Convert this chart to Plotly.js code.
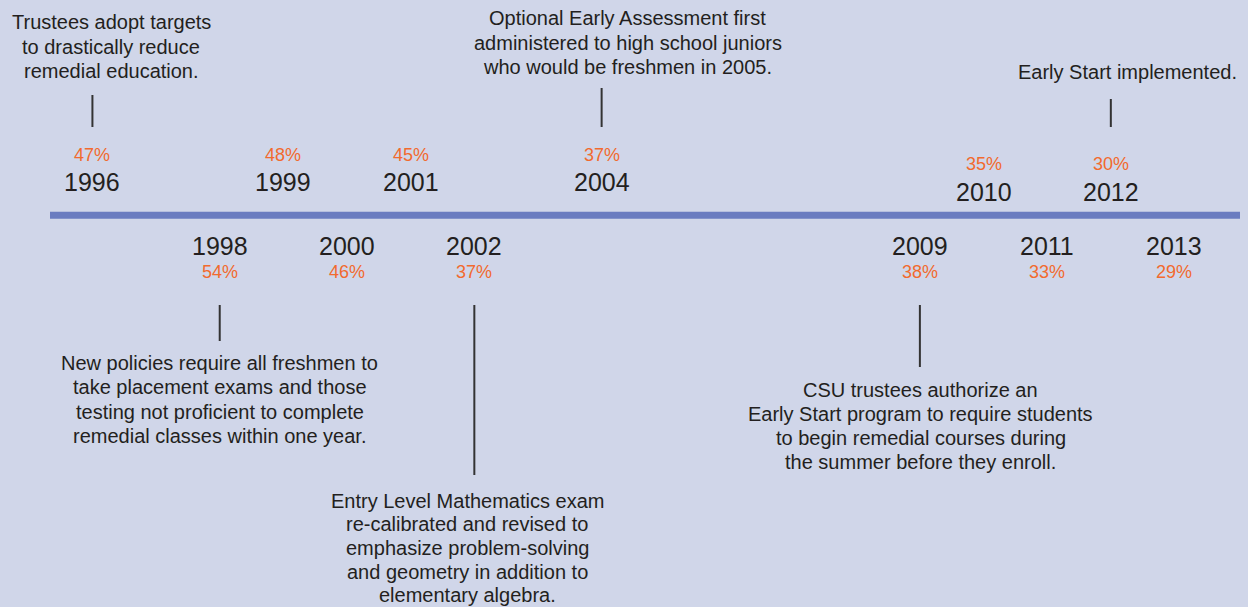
<!DOCTYPE html>
<html>
<head>
<meta charset="utf-8">
<script src="https://cdn.plot.ly/plotly-3.0.1.min.js"></script>
<style>
  html, body { margin: 0; padding: 0; background: #d0d6e9; }
  #chart { width: 1248px; height: 607px; }
</style>
</head>
<body>
<div id="chart"></div>
<script>
// ---------- DATA ----------
const years = [1996, 1998, 1999, 2000, 2001, 2002, 2004, 2009, 2010, 2011, 2012, 2013];
const remedialPct = [47, 54, 48, 46, 45, 37, 37, 38, 35, 33, 30, 29];

const eventYears = [1996, 1998, 2002, 2004, 2009, 2012];
const eventText = [
  "Trustees adopt targets<br>to drastically reduce<br>remedial education.",
  "New policies require all freshmen to<br>take placement exams and those<br>testing not proficient to complete<br>remedial classes within one year.",
  "Entry Level Mathematics exam<br>re-calibrated and revised to<br>emphasize problem-solving<br>and geometry in addition to<br>elementary algebra.",
  "Optional Early Assessment first<br>administered to high school juniors<br>who would be freshmen in 2005.",
  "CSU trustees authorize an<br>Early Start program to require students<br>to begin remedial courses during<br>the summer before they enroll.",
  "Early Start implemented."
];

// ---------- LAYOUT / STYLE ----------
const BG = '#d0d6e9';
const TEXT = '#231f20';
const ORANGE = '#f26a2e';
const LINE = '#6a7cc0';
const FONT = 'Liberation Sans, Arial, sans-serif';

// vertical placement (pixel rows, y axis runs 0..607 top-down)
function yearStyle(i, yr) {
  const above = (i % 2 === 0);
  if (above) {
    const late = yr >= 2010;
    return { above: true, yYear: late ? 192 : 182, yPct: late ? 163.7 : 154.5 };
  }
  return { above: false, yYear: 246, yPct: 271.5 };
}

// per-event: tick extent, text first-line center, line spacing, horizontal shift of text
const eventLayout = {
  1996: { t0: 95, t1: 127, first: 22.2, step: 24.5, dx: 19 },
  1998: { t0: 305, t1: 341, first: 362.8, step: 24.4, dx: 0 },
  2002: { t0: 305, t1: 475, first: 500.8, step: 23.6, dx: -7 },
  2004: { t0: 88, t1: 127, first: 18.3, step: 24.2, dx: 26 },
  2009: { t0: 305, t1: 367, first: 389.5, step: 24.1, dx: 1 },
  2012: { t0: 99, t1: 127, first: 71.7, step: 24.3, dx: 17 }
};

const annotations = [];
const shapes = [];

// main timeline bar
shapes.push({
  type: 'line', xref: 'paper', yref: 'y',
  x0: 50 / 1248, x1: 1240 / 1248, y0: 215.3, y1: 215.3,
  line: { color: LINE, width: 7 }
});

years.forEach((yr, i) => {
  const s = yearStyle(i, yr);
  annotations.push({
    x: yr, y: s.yYear, xref: 'x', yref: 'y', text: String(yr),
    showarrow: false, xanchor: 'center', yanchor: 'middle',
    font: { family: FONT, size: 25, color: TEXT }
  });
  annotations.push({
    x: yr, y: s.yPct, xref: 'x', yref: 'y', text: remedialPct[i] + '%',
    showarrow: false, xanchor: 'center', yanchor: 'middle',
    font: { family: FONT, size: 18, color: ORANGE }
  });
});

eventYears.forEach((yr, k) => {
  const L = eventLayout[yr];
  shapes.push({
    type: 'line', xref: 'x', yref: 'y',
    x0: yr, x1: yr, y0: L.t0, y1: L.t1,
    line: { color: '#333333', width: 2 }
  });
  eventText[k].split('<br>').forEach((ln, j) => {
    annotations.push({
      x: yr, y: L.first + j * L.step, xref: 'x', yref: 'y', xshift: L.dx,
      text: ln, showarrow: false, xanchor: 'center', yanchor: 'middle',
      font: { family: FONT, size: 20, color: TEXT }
    });
  });
});

// invisible trace to anchor the axes
const trace = {
  x: years, y: years.map(() => 215.3), mode: 'markers', type: 'scatter',
  marker: { size: 1, color: 'rgba(0,0,0,0)' }, hoverinfo: 'skip', showlegend: false
};

const layout = {
  width: 1248, height: 607,
  margin: { l: 0, r: 0, t: 0, b: 0, pad: 0 },
  paper_bgcolor: BG, plot_bgcolor: BG,
  xaxis: { range: [1994.548, 2014.155], visible: false, fixedrange: true },
  yaxis: { range: [607, 0], visible: false, fixedrange: true },
  showlegend: false,
  annotations: annotations,
  shapes: shapes
};

Plotly.newPlot('chart', [trace], layout, { displayModeBar: false, staticPlot: true });
</script>
</body>
</html>
